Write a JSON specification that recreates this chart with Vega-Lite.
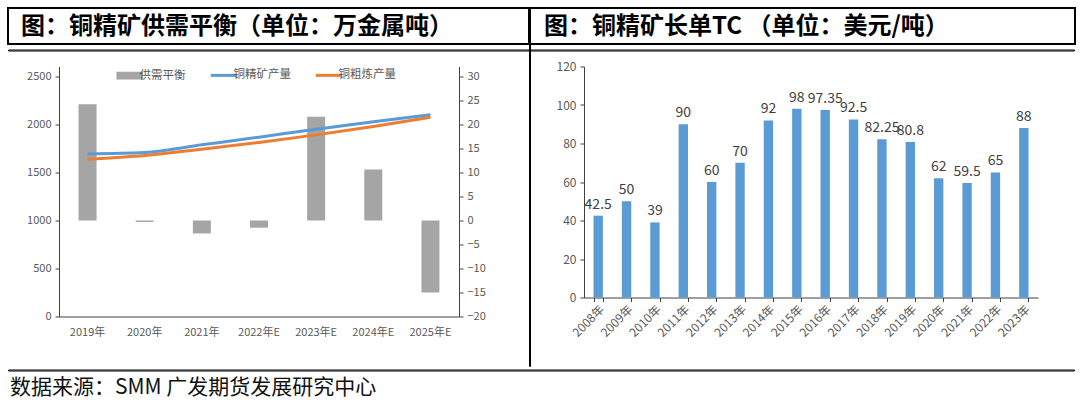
{
  "$schema": "https://vega.github.io/schema/vega-lite/v6.json",
  "padding": {"left": 7, "top": 7, "right": 0, "bottom": 2},
  "background": "white",
  "config": {
    "view": {"stroke": null},
    "font": "Noto Sans CJK SC",
    "axis": {"labelColor": "#595959", "domainColor": "#404040", "tickColor": "#404040", "grid": false, "labelFont": "Noto Sans CJK SC"}
  },
  "title": {"text": "数据来源：SMM 广发期货发展研究中心", "orient": "bottom", "anchor": "start", "frame": "bounds", "fontSize": 21, "fontWeight": "normal", "font": "Noto Sans CJK SC", "color": "#111111", "offset": 1, "dx": 3},
  "datasets": {
    "balance": [
      {"year": "2019年", "series": "供需平衡", "v": 24.2},
      {"year": "2020年", "series": "供需平衡", "v": -0.3},
      {"year": "2021年", "series": "供需平衡", "v": -2.7},
      {"year": "2022年E", "series": "供需平衡", "v": -1.5},
      {"year": "2023年E", "series": "供需平衡", "v": 21.6},
      {"year": "2024年E", "series": "供需平衡", "v": 10.6},
      {"year": "2025年E", "series": "供需平衡", "v": -15}
    ],
    "prod": [
      {"year": "2019年", "series": "铜精矿产量", "value": 1694},
      {"year": "2020年", "series": "铜精矿产量", "value": 1708},
      {"year": "2021年", "series": "铜精矿产量", "value": 1788},
      {"year": "2022年E", "series": "铜精矿产量", "value": 1868},
      {"year": "2023年E", "series": "铜精矿产量", "value": 1951},
      {"year": "2024年E", "series": "铜精矿产量", "value": 2028},
      {"year": "2025年E", "series": "铜精矿产量", "value": 2101},
      {"year": "2019年", "series": "铜粗炼产量", "value": 1639},
      {"year": "2020年", "series": "铜粗炼产量", "value": 1677},
      {"year": "2021年", "series": "铜粗炼产量", "value": 1743},
      {"year": "2022年E", "series": "铜粗炼产量", "value": 1813},
      {"year": "2023年E", "series": "铜粗炼产量", "value": 1892},
      {"year": "2024年E", "series": "铜粗炼产量", "value": 1979},
      {"year": "2025年E", "series": "铜粗炼产量", "value": 2076}
    ],
    "tc": [
      {"year": "2008年", "tc": 42.5},
      {"year": "2009年", "tc": 50},
      {"year": "2010年", "tc": 39},
      {"year": "2011年", "tc": 90},
      {"year": "2012年", "tc": 60},
      {"year": "2013年", "tc": 70},
      {"year": "2014年", "tc": 92},
      {"year": "2015年", "tc": 98},
      {"year": "2016年", "tc": 97.35},
      {"year": "2017年", "tc": 92.5},
      {"year": "2018年", "tc": 82.25},
      {"year": "2019年", "tc": 80.8},
      {"year": "2020年", "tc": 62},
      {"year": "2021年", "tc": 59.5},
      {"year": "2022年", "tc": 65},
      {"year": "2023年", "tc": 88}
    ]
  },
  "columns": 1,
  "align": "none",
  "spacing": -323.5,
  "resolve": {"scale": {"color": "independent"}, "legend": {"color": "independent"}},
  "concat": [
    {
      "columns": 3,
      "align": "none",
      "spacing": -2,
      "concat": [
        {
          "width": 521, "height": 36,
          "view": {"stroke": "black", "strokeWidth": 2},
          "data": {"values": [{"t": "图：铜精矿供需平衡（单位：万金属吨）"}]},
          "mark": {"type": "text", "align": "left", "baseline": "middle", "x": 13, "y": 19, "fontSize": 24, "fontWeight": "bold", "font": "Noto Sans CJK SC", "color": "black"},
          "encoding": {"text": {"field": "t"}}
        },
        {
          "width": 1, "height": 358,
          "view": {"stroke": "black", "strokeWidth": 1},
          "data": {"values": [{}]},
          "mark": {"type": "text", "text": ""}
        },
        {
          "width": 545, "height": 36,
          "view": {"stroke": "black", "strokeWidth": 2},
          "data": {"values": [{"t": "图：铜精矿长单TC （单位：美元/吨）"}]},
          "mark": {"type": "text", "align": "left", "baseline": "middle", "x": 14, "y": 19, "fontSize": 24, "fontWeight": "bold", "font": "Noto Sans CJK SC", "color": "black"},
          "encoding": {"text": {"field": "t"}}
        }
      ]
    },
    {
      "columns": 1,
      "align": "none",
      "spacing": 0,
      "resolve": {"scale": {"color": "independent"}, "legend": {"color": "independent"}},
      "concat": [
        {
          "width": 1066, "height": 1,
          "view": {"stroke": "black", "strokeWidth": 1},
          "data": {"values": [{}]},
          "mark": {"type": "text", "text": ""}
        },
        {
          "columns": 3,
          "align": "none",
          "spacing": 10,
          "resolve": {"scale": {"color": "independent"}, "legend": {"color": "independent"}},
          "concat": [
            {
              "width": 1, "height": 296,
              "view": {"stroke": "transparent", "strokeWidth": 1},
              "data": {"values": [{}]},
              "mark": {"type": "text", "text": ""}
            },
            {
              "width": 400, "height": 250,
              "layer": [
                {
                  "data": {"name": "balance"},
                  "mark": {"type": "bar"},
                  "encoding": {
                    "x": {"field": "year", "type": "nominal",
                          "scale": {"domain": ["2019年", "2020年", "2021年", "2022年E", "2023年E", "2024年E", "2025年E"], "paddingInner": 0.685, "paddingOuter": 0.342},
                          "axis": {"title": null, "labelAngle": 0, "ticks": false, "tickSize": 0, "labelPadding": 10, "labelFontSize": 11}},
                    "y": {"field": "v", "type": "quantitative",
                          "scale": {"domain": [-20, 32.083], "nice": false},
                          "axis": {"orient": "right", "title": null, "values": [-20, -15, -10, -5, 0, 5, 10, 15, 20, 25, 30], "tickSize": 4, "labelPadding": 4, "labelFontSize": 11, "minExtent": 60, "maxExtent": 60}},
                    "color": {"field": "series", "type": "nominal",
                              "scale": {"domain": ["供需平衡", "铜精矿产量", "铜粗炼产量"], "range": ["#A5A5A5", "#5B9BD5", "#ED7D31"]},
                              "legend": {"orient": "none", "legendX": 65, "legendY": 3, "direction": "horizontal", "title": null,
                                         "labelFontSize": 11.5, "labelColor": "#595959", "symbolSize": 676, "symbolStrokeWidth": 3,
                                         "columnPadding": 18, "labelOffset": 4, "padding": 0, "symbolType": "stroke",
                                         "encode": {"symbols": {"update": {
                                           "shape": {"signal": "datum.value === '供需平衡' ? 'M-1,-0.28H1V0.28H-1Z' : 'stroke'"},
                                           "fill": {"signal": "datum.value === '供需平衡' ? '#A5A5A5' : 'transparent'"},
                                           "stroke": {"signal": "datum.value === '供需平衡' ? '#A5A5A5' : (datum.value === '铜精矿产量' ? '#5B9BD5' : '#ED7D31')"},
                                           "strokeWidth": {"signal": "datum.value === '供需平衡' ? 0.5 : 3"}
                                         }}}}}
                  }
                },
                {
                  "data": {"name": "prod"},
                  "mark": {"type": "line", "interpolate": "monotone", "strokeWidth": 3},
                  "encoding": {
                    "x": {"field": "year", "type": "nominal"},
                    "y": {"field": "value", "type": "quantitative",
                          "scale": {"domain": [0, 2604.17], "nice": false},
                          "axis": {"orient": "left", "title": null, "format": "d", "values": [0, 500, 1000, 1500, 2000, 2500], "tickSize": 4, "labelPadding": 4, "labelFontSize": 11, "minExtent": 39, "maxExtent": 39}},
                    "color": {"field": "series", "type": "nominal"}
                  }
                }
              ],
              "resolve": {"scale": {"y": "independent"}}
            },
            {
              "width": 454, "height": 231,
              "title": {"text": " ", "fontSize": 10, "offset": -5},
              "data": {"name": "tc"},
              "encoding": {
                "x": {"field": "year", "type": "nominal", "sort": null,
                      "scale": {"paddingInner": 0.67, "paddingOuter": 0.335},
                      "axis": {"title": null, "labelAngle": -45, "tickBand": "extent", "ticks": true, "tickSize": 4, "labelPadding": 2, "labelFontSize": 12}},
                "y": {"field": "tc", "type": "quantitative",
                      "scale": {"domain": [0, 120], "nice": false},
                      "axis": {"title": null, "values": [0, 20, 40, 60, 80, 100, 120], "tickSize": 4, "labelPadding": 4, "labelFontSize": 12, "minExtent": 55, "maxExtent": 55}}
              },
              "layer": [
                {"mark": {"type": "bar", "color": "#5B9BD5"}},
                {"mark": {"type": "text", "baseline": "bottom", "dy": -4, "fontSize": 14, "color": "#404040", "font": "Noto Sans CJK SC"},
                 "encoding": {"text": {"field": "tc", "type": "quantitative"}}}
              ]
            }
          ]
        },
        {
          "width": 1066, "height": 1,
          "view": {"stroke": "black", "strokeWidth": 1},
          "data": {"values": [{}]},
          "mark": {"type": "text", "text": ""}
        }
      ]
    }
  ]
}
